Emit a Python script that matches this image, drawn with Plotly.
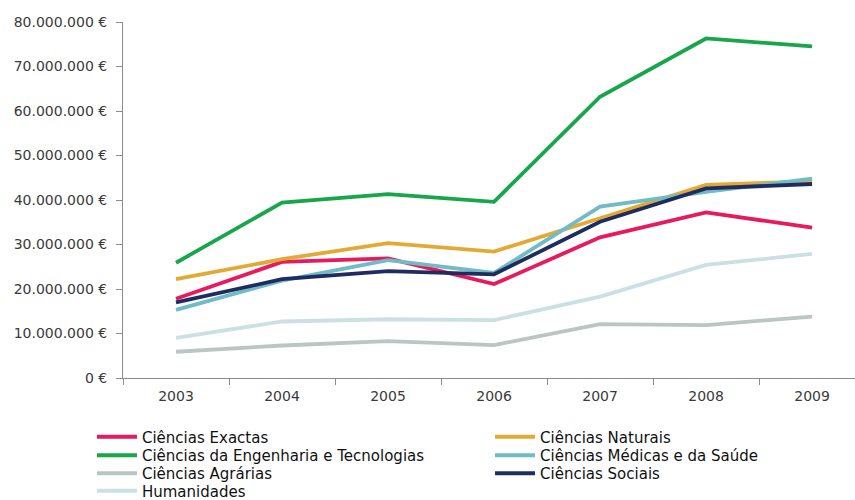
import plotly.graph_objects as go

# Funding per scientific area, in euros
years = ["2003", "2004", "2005", "2006", "2007", "2008", "2009"]

exactas = [17_800_000, 26_100_000, 26_900_000, 21_100_000, 31_600_000, 37_200_000, 33_800_000]
naturais = [22_200_000, 26_700_000, 30_300_000, 28_400_000, 35_900_000, 43_400_000, 44_200_000]
engenharia = [25_900_000, 39_400_000, 41_300_000, 39_600_000, 63_200_000, 76_300_000, 74_500_000]
medicas = [15_300_000, 21_900_000, 26_500_000, 23_600_000, 38_500_000, 41_800_000, 44_800_000]
agrarias = [5_900_000, 7_300_000, 8_300_000, 7_400_000, 12_100_000, 11_900_000, 13_800_000]
sociais = [17_000_000, 22_200_000, 24_000_000, 23_300_000, 35_100_000, 42_600_000, 43_600_000]
humanidades = [9_000_000, 12_700_000, 13_200_000, 13_000_000, 18_300_000, 25_400_000, 27_900_000]

series_names = [
    "Ciências Exactas",
    "Ciências Naturais",
    "Ciências da Engenharia e Tecnologias",
    "Ciências Médicas e da Saúde",
    "Ciências Agrárias",
    "Ciências Sociais",
    "Humanidades",
]

y_tick_values = [0, 10_000_000, 20_000_000, 30_000_000, 40_000_000,
                 50_000_000, 60_000_000, 70_000_000, 80_000_000]
y_tick_labels = ["0 €", "10.000.000 €", "20.000.000 €", "30.000.000 €", "40.000.000 €",
                 "50.000.000 €", "60.000.000 €", "70.000.000 €", "80.000.000 €"]

series_values = [exactas, naturais, engenharia, medicas, agrarias, sociais, humanidades]
colors = ["#E61A5D", "#E2AA35", "#17A64C", "#70BBC6", "#B9C6C2", "#1F2C60", "#CBE0E4"]

font_family = "DejaVu Sans"

# Legend laid out as a two-column grid below the plot: one legend box per entry
legend_x = [-0.0424, 0.5014]  # left / right column (paper coords)
legend_rows_y = [-0.1657, -0.2177, -0.2683, -0.3174]

fig = go.Figure()
legend_layouts = {}
for i, (name, vals, col) in enumerate(zip(series_names, series_values, colors)):
    legend_id = "legend" if i == 0 else f"legend{i + 1}"
    fig.add_trace(go.Scatter(
        x=years, y=vals, name=name, mode="lines",
        line=dict(color=col, width=3.8),
        legend=legend_id,
    ))
    legend_layouts[legend_id] = dict(
        orientation="v",
        x=legend_x[i % 2], xanchor="left",
        y=legend_rows_y[i // 2], yanchor="middle",
        font=dict(family=font_family, size=15, color="#111111"),
        itemwidth=40,
        bgcolor="rgba(0,0,0,0)",
        borderwidth=0,
    )

fig.update_layout(
    width=855, height=500,
    margin=dict(l=123, r=0, t=22, b=122, autoexpand=False),
    paper_bgcolor="white", plot_bgcolor="white",
    font=dict(family=font_family, color="#3a3a3a"),
    showlegend=True,
    xaxis=dict(
        type="category",
        range=[-0.5, 6.405],
        showline=True, linecolor="#8c8c8c", linewidth=1,
        ticks="outside", ticklen=6, tickcolor="#8c8c8c",
        tickson="boundaries",
        ticklabelstandoff=5,
        showgrid=False, zeroline=False,
        tickfont=dict(family=font_family, size=14, color="#3a3a3a"),
    ),
    yaxis=dict(
        range=[0, 80_000_000],
        tickmode="array", tickvals=y_tick_values, ticktext=y_tick_labels,
        showline=True, linecolor="#8c8c8c", linewidth=1,
        ticks="outside", ticklen=6, tickcolor="#8c8c8c",
        ticklabelstandoff=6,
        showgrid=False, zeroline=False,
        tickfont=dict(family=font_family, size=14, color="#3a3a3a"),
    ),
    **legend_layouts,
)

fig.write_html("out.html")
